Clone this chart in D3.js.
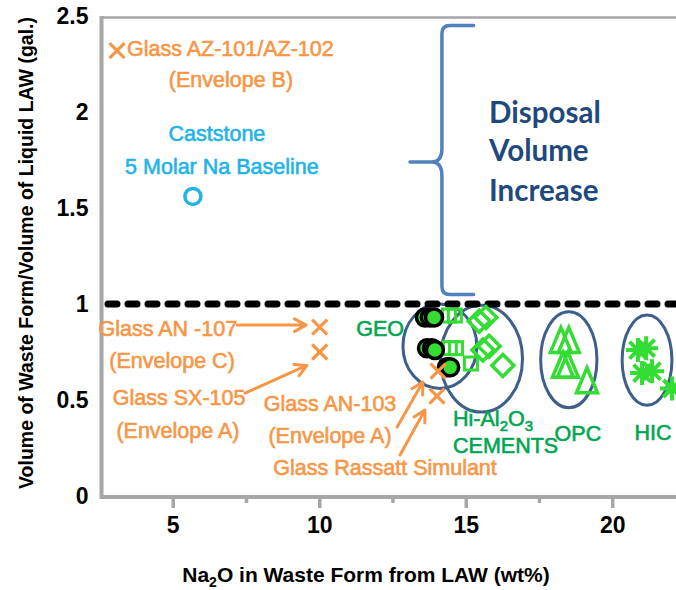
<!DOCTYPE html>
<html>
<head>
<meta charset="utf-8">
<script src="https://cdn.jsdelivr.net/npm/d3@7"></script>
<style>
body { margin: 0; background: #fff; }
text { font-family: 'Liberation Sans', Arial, sans-serif; }
</style>
</head>
<body>
<div id="chart"></div>
<script>
var width = 676, height = 590;

// axis values
var xTicks = [5, 10, 15, 20];
var xMinor = [7.5, 12.5, 17.5];
var yTicks = [0, 0.5, 1, 1.5, 2, 2.5];
var baseline = 1;

// series
var glassX = [3.08, 10.0, 10.0, 14.04, 14.0];
var glassY = [2.32, 0.88, 0.75, 0.65, 0.52];
var caststoneX = [5.67];
var caststoneY = [1.56];
var geoX = [13.59, 13.76, 13.9, 13.66, 13.83, 13.93, 14.34, 14.45];
var geoY = [0.93, 0.93, 0.93, 0.77, 0.77, 0.76, 0.67, 0.67];
var squareX = [14.41, 14.61, 14.44, 14.65, 15.16];
var squareY = [0.94, 0.94, 0.77, 0.77, 0.69];
var diamondX = [15.44, 15.67, 15.57, 15.78, 16.25];
var diamondY = [0.91, 0.93, 0.76, 0.78, 0.68];
var opcX = [18.23, 18.5, 18.3, 18.47, 19.12];
var opcY = [0.80, 0.80, 0.67, 0.67, 0.59];
var hicX = [20.86, 21.14, 21.0, 21.34, 22.02];
var hicY = [0.76, 0.77, 0.64, 0.65, 0.56];

var orange = "#f79646", green = "#33dd33", cyan = "#1fb3e8",
    textGreen = "#00a651", navy = "#1f497d", ring = "#3e5f8a";

var svg = d3.select("#chart")
  .append("svg")
  .attr("width", width)
  .attr("height", height);

var x = d3.scaleLinear().domain([2.5, 22.5]).range([100, 686]);
var y = d3.scaleLinear().domain([0, 2.5]).range([496, 16]);

function pts(xs, ys) {
  return xs.map(function(v, i) { return {x: v, y: ys[i]}; });
}

// frame: gray top border
svg.append("line")
  .attr("x1", x(2.5)).attr("x2", width)
  .attr("y1", y(2.5) + 1.5).attr("y2", y(2.5) + 1.5)
  .attr("stroke", "#a6a6a6").attr("stroke-width", 2.5);

// x axis
var xAxis = svg.append("g").attr("transform", "translate(0," + (y(0) + 1) + ")");
xAxis.append("line").attr("x1", x(2.5)).attr("x2", width)
  .attr("stroke", "#a6a6a6").attr("stroke-width", 4);
xAxis.selectAll(".maj").data(xTicks).enter().append("line")
  .attr("x1", function(d) { return x(d); }).attr("x2", function(d) { return x(d); })
  .attr("y1", 0).attr("y2", 11)
  .attr("stroke", "#a6a6a6").attr("stroke-width", 3.5);
xAxis.selectAll(".min").data(xMinor).enter().append("line")
  .attr("x1", function(d) { return x(d); }).attr("x2", function(d) { return x(d); })
  .attr("y1", 0).attr("y2", 6)
  .attr("stroke", "#a6a6a6").attr("stroke-width", 3.5);
xAxis.selectAll("text").data(xTicks).enter().append("text")
  .attr("x", function(d) { return x(d); })
  .attr("y", 36)
  .attr("text-anchor", "middle")
  .attr("font-size", 23).attr("font-weight", "bold")
  .text(function(d) { return d; });

// y axis
var yAxis = svg.append("g").attr("transform", "translate(" + (x(2.5) + 1.5) + ",0)");
yAxis.append("line").attr("y1", y(2.5)).attr("y2", y(0) + 3)
  .attr("stroke", "#a6a6a6").attr("stroke-width", 4);
yAxis.selectAll("text").data(yTicks).enter().append("text")
  .attr("x", -13)
  .attr("y", function(d) { return y(d); })
  .attr("dy", "0.36em")
  .attr("text-anchor", "end")
  .attr("font-size", 23).attr("font-weight", "bold")
  .text(function(d) { return d; });

// axis titles
var xt = svg.append("text")
  .attr("x", 366).attr("y", 582)
  .attr("text-anchor", "middle")
  .attr("font-size", 21).attr("font-weight", "bold");
xt.append("tspan").text("Na");
xt.append("tspan").attr("font-size", 14).attr("dy", 5).text("2");
xt.append("tspan").attr("dy", -5).text("O in Waste Form from LAW (wt%)");

svg.append("text")
  .attr("transform", "translate(33,253) rotate(-90)")
  .attr("text-anchor", "middle")
  .attr("font-size", 19.5).attr("font-weight", "bold")
  .text("Volume of Waste Form/Volume of Liquid LAW (gal.)");

// ellipses around the cement groups
var ellipses = [
  {cx: 14.1, cy: 0.78, rx: 1.26, ry: 0.22},
  {cx: 15.52, cy: 0.715, rx: 1.4, ry: 0.278},
  {cx: 18.5, cy: 0.71, rx: 0.96, ry: 0.25},
  {cx: 21.17, cy: 0.708, rx: 0.85, ry: 0.235}
];
svg.selectAll(".ring").data(ellipses).enter().append("ellipse")
  .attr("cx", function(d) { return x(d.cx); })
  .attr("cy", function(d) { return y(d.cy); })
  .attr("rx", function(d) { return x(d.cx + d.rx) - x(d.cx); })
  .attr("ry", function(d) { return y(d.cy - d.ry) - y(d.cy); })
  .attr("fill", "none").attr("stroke", ring).attr("stroke-width", 3);

// baseline dashed line
svg.append("line")
  .attr("x1", x(2.5) + 8).attr("x2", width)
  .attr("y1", y(baseline)).attr("y2", y(baseline))
  .attr("stroke", "#000").attr("stroke-width", 7)
  .attr("stroke-dasharray", "9,11").attr("stroke-linecap", "round");

// brace
var bx = x(14.17), btip = x(13.08), bend = x(15.25);
var bt = y(2.45), bb = y(1.05), bm = y(1.74);
svg.append("path")
  .attr("d", "M" + bend + "," + bt + " L" + (bx + 8) + "," + bt +
    " Q" + bx + "," + bt + " " + bx + "," + (bt + 8) +
    " L" + bx + "," + (bm - 14) +
    " Q" + bx + "," + bm + " " + (bx - 10) + "," + bm +
    " L" + btip + "," + bm +
    " L" + (bx - 10) + "," + bm +
    " Q" + bx + "," + bm + " " + bx + "," + (bm + 14) +
    " L" + bx + "," + (bb - 8) +
    " Q" + bx + "," + bb + " " + (bx + 8) + "," + bb +
    " L" + bend + "," + bb)
  .attr("fill", "none").attr("stroke", "#4f81bd").attr("stroke-width", 3.5)
  .attr("stroke-linecap", "round").attr("stroke-linejoin", "round");

var disp = ["Disposal", "Volume", "Increase"], dispY = [2.0, 1.8, 1.594];
svg.selectAll(".disp").data(disp).enter().append("text")
  .attr("x", x(15.78))
  .attr("y", function(d, i) { return y(dispY[i]); })
  .attr("dy", "0.36em")
  .style("font-family", "Lato, 'Open Sans', sans-serif")
  .attr("font-size", 29.5).attr("font-weight", "bold")
  .attr("fill", navy)
  .text(function(d) { return d; });

// markers
svg.selectAll(".sq").data(pts(squareX, squareY)).enter().append("rect")
  .attr("x", function(d) { return x(d.x) - 6.5; })
  .attr("y", function(d) { return y(d.y) - 6.5; })
  .attr("width", 13).attr("height", 13)
  .attr("fill", "none").attr("stroke", green).attr("stroke-width", 3);

svg.selectAll(".dia").data(pts(diamondX, diamondY)).enter().append("path")
  .attr("transform", function(d) { return "translate(" + x(d.x) + "," + y(d.y) + ")"; })
  .attr("d", "M0,-11 L11,0 L0,11 L-11,0 Z")
  .attr("fill", "none").attr("stroke", green).attr("stroke-width", 3.5);

svg.selectAll(".geo").data(pts(geoX, geoY)).enter().append("circle")
  .attr("cx", function(d) { return x(d.x); })
  .attr("cy", function(d) { return y(d.y); })
  .attr("r", 8.5)
  .attr("fill", green).attr("stroke", "#000").attr("stroke-width", 3.5);

svg.selectAll(".tri").data(pts(opcX, opcY)).enter().append("path")
  .attr("transform", function(d) { return "translate(" + x(d.x) + "," + y(d.y) + ")"; })
  .attr("d", "M0,-15 L10.5,10 L-10.5,10 Z")
  .attr("fill", "none").attr("stroke", green).attr("stroke-width", 3.5);

svg.selectAll(".ast").data(pts(hicX, hicY)).enter().append("path")
  .attr("transform", function(d) { return "translate(" + x(d.x) + "," + y(d.y) + ")"; })
  .attr("d", "M-12,0 L12,0 M0,-12 L0,12 M-8.5,-8.5 L8.5,8.5 M-8.5,8.5 L8.5,-8.5")
  .attr("stroke", green).attr("stroke-width", 4);

svg.selectAll(".cast").data(pts(caststoneX, caststoneY)).enter().append("circle")
  .attr("cx", function(d) { return x(d.x); })
  .attr("cy", function(d) { return y(d.y); })
  .attr("r", 8)
  .attr("fill", "none").attr("stroke", cyan).attr("stroke-width", 3.5);

svg.selectAll(".glass").data(pts(glassX, glassY)).enter().append("path")
  .attr("transform", function(d) { return "translate(" + x(d.x) + "," + y(d.y) + ")"; })
  .attr("d", "M-7.5,-7.5 L7.5,7.5 M-7.5,7.5 L7.5,-7.5")
  .attr("stroke", orange).attr("stroke-width", 3.2);

// arrows
var arrows = [
  {x1: 7.18, y1: 0.89, x2: 9.53, y2: 0.89},
  {x1: 7.45, y1: 0.536, x2: 9.56, y2: 0.68},
  {x1: 12.64, y1: 0.36, x2: 13.52, y2: 0.594},
  {x1: 12.74, y1: 0.214, x2: 13.59, y2: 0.448}
];
arrows.forEach(function(a) {
  var x1 = x(a.x1), y1 = y(a.y1), x2 = x(a.x2), y2 = y(a.y2);
  var ang = Math.atan2(y2 - y1, x2 - x1), h = 13, s = 0.5;
  svg.append("path")
    .attr("d", "M" + x1 + "," + y1 + " L" + x2 + "," + y2 +
      " M" + (x2 - h * Math.cos(ang - s)) + "," + (y2 - h * Math.sin(ang - s)) +
      " L" + x2 + "," + y2 +
      " L" + (x2 - h * Math.cos(ang + s)) + "," + (y2 - h * Math.sin(ang + s)))
    .attr("fill", "none").attr("stroke", orange).attr("stroke-width", 3)
    .attr("stroke-linecap", "round").attr("stroke-linejoin", "round");
});

// labels
var labels = [
  {t: "Glass AZ-101/AZ-102", x: 3.42, y: 2.33, a: "start", c: orange},
  {t: "(Envelope B)", x: 6.97, y: 2.17, a: "middle", c: orange},
  {t: "Caststone", x: 6.49, y: 1.89, a: "middle", c: cyan},
  {t: "5 Molar Na Baseline", x: 6.66, y: 1.72, a: "middle", c: cyan},
  {t: "Glass AN -107", x: 7.18, y: 0.875, a: "end", c: orange},
  {t: "(Envelope C)", x: 4.96, y: 0.708, a: "middle", c: orange},
  {t: "Glass SX-105", x: 5.2, y: 0.516, a: "middle", c: orange},
  {t: "(Envelope A)", x: 5.16, y: 0.344, a: "middle", c: orange},
  {t: "Glass AN-103", x: 10.35, y: 0.484, a: "middle", c: orange},
  {t: "(Envelope A)", x: 10.35, y: 0.318, a: "middle", c: orange},
  {t: "Glass Rassatt Simulant", x: 12.23, y: 0.151, a: "middle", c: orange},
  {t: "GEO", x: 12.06, y: 0.875, a: "middle", c: textGreen},
  {t: "CEMENTS", x: 14.55, y: 0.266, a: "start", c: textGreen},
  {t: "OPC", x: 18.81, y: 0.328, a: "middle", c: textGreen},
  {t: "HIC", x: 21.37, y: 0.333, a: "middle", c: textGreen}
];
svg.selectAll(".lab").data(labels).enter().append("text")
  .attr("x", function(d) { return x(d.x); })
  .attr("y", function(d) { return y(d.y); })
  .attr("dy", "0.36em")
  .attr("text-anchor", function(d) { return d.a; })
  .attr("font-size", 21.5)
  .attr("fill", function(d) { return d.c; })
  .attr("stroke", function(d) { return d.c; })
  .attr("stroke-width", 0.6)
  .text(function(d) { return d.t; });

var hi = svg.append("text")
  .attr("x", x(14.55)).attr("y", y(0.406)).attr("dy", "0.36em")
  .attr("font-size", 21.5).attr("fill", textGreen)
  .attr("stroke", textGreen).attr("stroke-width", 0.6);
hi.append("tspan").text("Hi-Al");
hi.append("tspan").attr("font-size", 15).attr("dy", 5).text("2");
hi.append("tspan").attr("dy", -5).text("O");
hi.append("tspan").attr("font-size", 15).attr("dy", 5).text("3");
</script>
</body>
</html>
